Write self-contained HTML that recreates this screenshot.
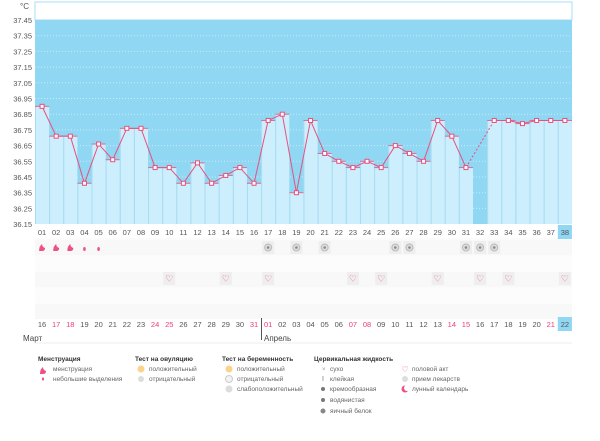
<!DOCTYPE html>
<html><head><meta charset="utf-8"><style>
body{margin:0;background:#fff;width:600px;height:436px;overflow:hidden;font-family:"Liberation Sans",sans-serif}
svg text{font-family:"Liberation Sans",sans-serif}
</style></head><body>
<svg id="s" width="600" height="436" xmlns="http://www.w3.org/2000/svg"></svg>
<script>
const s=document.getElementById('s');let h='';
const X0=35,W=14.13,N=38;
const Y=v=>20+(37.45-v)*157;
const cx=i=>X0+(i+0.5)*W;
const vals=[36.90,36.71,36.71,36.41,36.66,36.56,36.76,36.76,36.51,36.51,36.41,36.54,36.41,36.46,36.51,36.41,36.81,36.85,36.35,36.81,36.60,36.55,36.51,36.55,36.51,36.65,36.60,36.55,36.81,36.71,36.51,null,36.81,36.81,36.79,36.81,36.81,36.81];
h+=`<rect x="35" y="238" width="537" height="80" fill="#fbfbfb"/>`;
for(let r=0;r<5;r++)h+=`<rect x="35" y="${240+r*16}" width="537" height="15" fill="${r%2?'#fcfcfc':'#f8f8f8'}"/>`;
h+=`<rect x="35" y="2" width="537" height="18" fill="#fff" stroke="#a9dff5"/>`;
h+=`<rect x="35" y="20" width="537" height="204" fill="#8fd7f2"/>`;
for(let k=1;k<13;k++){const y=20+k*15.7;h+=`<line x1="35" x2="572" y1="${y}" y2="${y}" stroke="#c9ecf9" stroke-dasharray="1,2"/>`;}
for(let k=0;k<14;k++){const v=(37.45-k*0.1).toFixed(2);h+=`<text x="32" y="${20+k*15.7+3}" font-size="7.5" fill="#555" text-anchor="end">${v}</text>`;}
h+=`<text x="20" y="9" font-size="8" fill="#555">°C</text>`;
vals.forEach((v,i)=>{if(v==null)return;const y=Y(v);h+=`<rect x="${X0+i*W}" y="${y}" width="${W}" height="${224-y}" fill="#cdeefc"/>`;});
vals.forEach((v,i)=>{if(v==null)return;const y=Y(v);h+=`<line x1="${X0+i*W+0.5}" x2="${X0+i*W+0.5}" y1="${y}" y2="224" stroke="#a6dcf2"/><line x1="${X0+i*W}" x2="${X0+i*W+W}" y1="${y}" y2="${y}" stroke="#e06a90" stroke-width="1"/>`;});
let p='';vals.forEach((v,i)=>{if(v==null||i>30)return;p+=(p?'L':'M')+cx(i)+','+Y(v);});
h+=`<path d="${p}" fill="none" stroke="#e8507f" stroke-width="1"/>`;
let p2='';vals.forEach((v,i)=>{if(v==null||i<32)return;p2+=(p2?'L':'M')+cx(i)+','+Y(v);});
h+=`<path d="${p2}" fill="none" stroke="#e8507f" stroke-width="1"/>`;
h+=`<line x1="${cx(30)}" y1="${Y(vals[30])}" x2="${cx(32)}" y2="${Y(vals[32])}" stroke="#e8507f" stroke-dasharray="2,2"/>`;
vals.forEach((v,i)=>{if(v==null)return;h+=`<rect x="${cx(i)-2}" y="${Y(v)-2}" width="4" height="4" fill="#fff" stroke="#e8507f" stroke-width="1"/>`;});
h+=`<rect x="${X0+37*W}" y="225" width="${W}" height="14" fill="#8fd7f2"/>`;
for(let i=0;i<N;i++)h+=`<text x="${cx(i)}" y="235" font-size="7.5" fill="#555" text-anchor="middle">${String(i+1).padStart(2,'0')}</text>`;
[0,1,2].forEach(i=>h+=`<path d="M${cx(i)-3},${251}q0-5 3-7q0 3 3 4q0 3-3 3z" fill="#ee4f86"/>`);
[3,4].forEach(i=>h+=`<ellipse cx="${cx(i)}" cy="249" rx="1.3" ry="2" fill="#ee4f86"/>`);
[16,18,20,25,26,30,31,32].forEach(i=>h+=`<rect x="${cx(i)-6}" y="241" width="12" height="13" fill="#eee"/><circle cx="${cx(i)}" cy="247.5" r="3.5" fill="#ddd" stroke="#bbb"/><circle cx="${cx(i)}" cy="247.5" r="1.3" fill="#888"/>`);
[9,13,16,22,24,28,31,33,37].forEach(i=>h+=`<rect x="${cx(i)-6}" y="272" width="12" height="13" fill="#eee"/><text x="${cx(i)}" y="281.5" font-size="9" fill="#ee4f86" text-anchor="middle">♡</text>`);
const red=new Set([17,18,24,25,31]),redA=new Set([1,7,8,14,15,21]);
h+=`<rect x="${X0+37*W}" y="317" width="${W}" height="14" fill="#8fd7f2"/>`;
for(let i=0;i<N;i++){let d,r;if(i<16){d=16+i;r=red.has(d);}else{d=i-15;r=redA.has(d);}h+=`<text x="${cx(i)}" y="327" font-size="7.5" fill="${r?'#ee3d74':'#555'}" text-anchor="middle">${String(d).padStart(2,'0')}</text>`;}
h+=`<line x1="261.5" x2="261.5" y1="318" y2="340" stroke="#555"/>`;
h+=`<text x="23" y="341" font-size="8" fill="#444">Март</text><text x="264" y="341" font-size="8" fill="#444">Апрель</text>`;
h+=`<line x1="35" x2="572" y1="343" y2="343" stroke="#eee"/>`;
const L=(x,y,t,b)=>h+=`<text x="${x}" y="${y}" font-size="6.5" fill="${b?'#333':'#666'}" ${b?'font-weight="bold"':''}>${t}</text>`;
L(38,361,'Менструация',1);L(53,371,'менструация');L(53,381,'небольшие выделения');
h+=`<path d="M40,374q0-5 3-7q0 3 3 4q0 3-3 3z" fill="#ee4f86"/><ellipse cx="43" cy="379" rx="1" ry="1.6" fill="#ee4f86"/>`;
L(135,361,'Тест на овуляцию',1);L(149,371,'положительный');L(149,381,'отрицательный');
h+=`<circle cx="141" cy="369" r="3.5" fill="#fbd38a"/><circle cx="141" cy="379" r="3" fill="#ddd"/>`;
L(222,361,'Тест на беременность',1);L(237,371,'положительный');L(237,381,'отрицательный');L(237,391,'слабоположительный');
h+=`<circle cx="229" cy="369" r="3.5" fill="#fbd38a"/><circle cx="229" cy="379" r="3.5" fill="#f3f3f3" stroke="#ccc"/><circle cx="229" cy="389" r="3.5" fill="#ddd"/>`;
L(314,361,'Цервикальная жидкость',1);L(330,371,'сухо');L(330,381,'клейкая');L(330,391,'кремообразная');L(330,402,'водянистая');L(330,413,'яичный белок');
h+=`<text x="322" y="371" font-size="6" fill="#999">×</text><text x="322" y="381" font-size="7" fill="#777">I</text><circle cx="323" cy="389" r="2" fill="#777"/><circle cx="323" cy="400" r="2" fill="#777"/><circle cx="323" cy="411" r="2.5" fill="#888"/>`;
L(412,371,'половой акт');L(412,381,'прием лекарств');L(412,391,'лунный календарь');
h+=`<text x="405" y="372" font-size="8" fill="#ee4f86" text-anchor="middle">♡</text><circle cx="405" cy="379" r="3" fill="#ddd"/><circle cx="405" cy="389" r="3.5" fill="#ee4f86"/><circle cx="407" cy="388" r="3" fill="#fff"/>`;
s.innerHTML=h;
</script>
</body></html>
